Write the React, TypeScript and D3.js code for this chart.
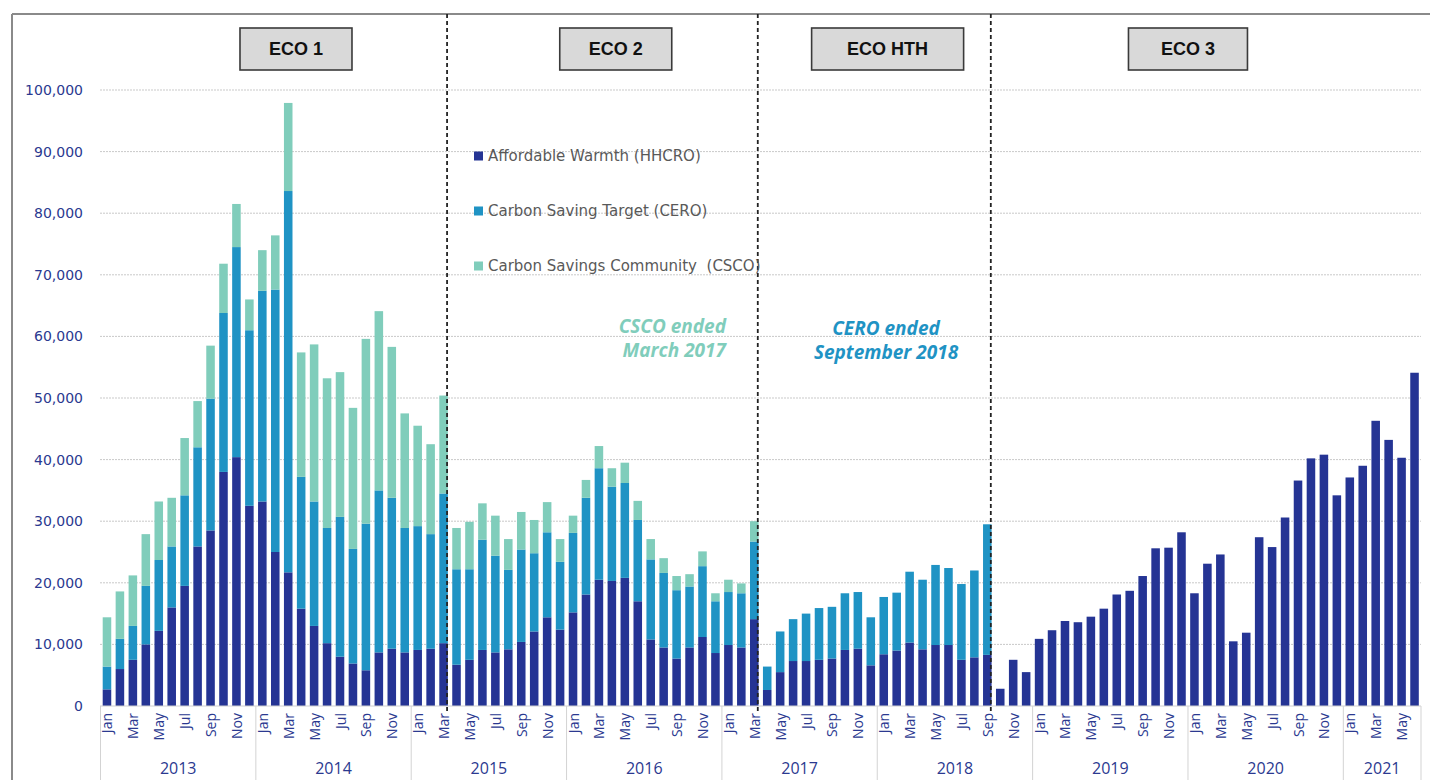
import React from "react";
import * as d3 from "d3";

// ---------- DATA ----------
const monthNames = ["Jan", "Feb", "Mar", "Apr", "May", "Jun", "Jul", "Aug", "Sep", "Oct", "Nov", "Dec"];
const years = [2013, 2014, 2015, 2016, 2017, 2018, 2019, 2020, 2021];
const monthsPerYear = [12, 12, 12, 12, 12, 12, 12, 12, 6];

// Affordable Warmth (HHCRO)
const hhcro = [
  2700, 6000, 7500, 10000, 12200, 16000, 19500, 25900, 28500, 38000, 40400, 32500,
  33200, 25000, 21700, 15800, 13000, 10200, 8000, 6900, 5800, 8700, 9300, 8700,
  9100, 9300, 10200, 6700, 7500, 9100, 8700, 9200, 10400, 12100, 14400, 12400,
  15200, 18100, 20500, 20300, 20800, 17000, 10800, 9500, 7700, 9500, 11200, 8600,
  9900, 9500, 14100, 2600, 5500, 7300, 7300, 7500, 7700, 9100, 9300, 6600,
  8400, 9000, 10300, 9200, 9900, 9900, 7500, 7900, 8300, 2800, 7500, 5500,
  10900, 12300, 13800, 13600, 14500, 15800, 18100, 18700, 21100, 25600, 25700, 28200,
  18300, 23100, 24600, 10500, 11900, 27400, 25800, 30600, 36600, 40200, 40800, 34200,
  37100, 39000, 46300, 43200, 40300, 54100,
];
// Carbon Saving Target (CERO)
const cero = [
  3700, 4900, 5500, 9500, 11500, 9900, 14700, 16100, 21400, 25800, 34100, 28500,
  34200, 42600, 61900, 21400, 20200, 18700, 22700, 18600, 23800, 26300, 24500, 20200,
  20100, 18600, 24300, 15500, 14700, 17900, 15700, 12900, 15000, 12700, 13800, 11000,
  12900, 15700, 18100, 15300, 15400, 13200, 13000, 12100, 11100, 9900, 11500, 8400,
  8600, 8800, 12600, 3800, 6600, 6800, 7700, 8400, 8400, 9200, 9200, 7800,
  9300, 9400, 11500, 11300, 13000, 12500, 12300, 14100, 21200, 0, 0, 0,
  0, 0, 0, 0, 0, 0, 0, 0, 0, 0, 0, 0,
  0, 0, 0, 0, 0, 0, 0, 0, 0, 0, 0, 0,
  0, 0, 0, 0, 0, 0,
];
// Carbon Savings Community (CSCO)
const csco = [
  8000, 7700, 8200, 8400, 9500, 7900, 9300, 7500, 8600, 8000, 7000, 5000,
  6600, 8800, 14300, 20200, 25500, 24300, 23500, 22900, 30000, 29100, 24500, 18600,
  16300, 14600, 15900, 6700, 7700, 5900, 6500, 5000, 6100, 5400, 4900, 3700,
  2800, 2900, 3600, 3000, 3300, 3100, 3300, 2400, 2300, 2000, 2400, 1300,
  2000, 1600, 3300, 0, 0, 0, 0, 0, 0, 0, 0, 0,
  0, 0, 0, 0, 0, 0, 0, 0, 0, 0, 0, 0,
  0, 0, 0, 0, 0, 0, 0, 0, 0, 0, 0, 0,
  0, 0, 0, 0, 0, 0, 0, 0, 0, 0, 0, 0,
  0, 0, 0, 0, 0, 0,
];

const seriesKeys = ["hhcro", "cero", "csco"];
const seriesLabels = ["Affordable Warmth (HHCRO)", "Carbon Saving Target (CERO)", "Carbon Savings Community  (CSCO)"];
const seriesColors = ["#253494", "#1F93C4", "#80CDBB"];

const yTicks = [0, 10000, 20000, 30000, 40000, 50000, 60000, 70000, 80000, 90000, 100000];

// scheme end months (index of last month in scheme)
const schemeEnds = [26, 50, 68];
const schemeNames = ["ECO 1", "ECO 2", "ECO HTH", "ECO 3"];
const schemeLabelCenter = [14.6, 39.3, 60.3, 83.5];
const schemeBoxWidth = [112, 112, 152, 119];

// ---------- DERIVED ----------
const periods: { label: string; month: number; year: number }[] = [];
years.forEach((y, yi) => {
  for (let m = 0; m < monthsPerYear[yi]; m++) periods.push({ label: `${monthNames[m]} ${y}`, month: m, year: y });
});
const table = periods.map((p, i) => ({ idx: i, hhcro: hhcro[i], cero: cero[i], csco: csco[i] }));

const W = 1430;
const H = 780;
const x = d3
  .scaleBand<number>()
  .domain(periods.map((_, i) => i))
  .range([100.5, 1421])
  .paddingInner(0.34)
  .paddingOuter(0.17);
const y = d3.scaleLinear().domain([0, 100000]).range([706, 90]);
const step = x.step();
const rangeStart = 100.5;
const cx = (i: number) => (x(i) as number) + x.bandwidth() / 2;
const xAt = (fi: number) => rangeStart + step * (fi + 0.5);

const stacked = d3.stack<any>().keys(seriesKeys)(table);

const navy = "#2B3990";
const fmt = d3.format(",");

export default function App() {
  const yearBounds: { year: number; x0: number; x1: number }[] = [];
  let k = 0;
  years.forEach((yr, yi) => {
    const x0 = rangeStart + k * step;
    k += monthsPerYear[yi];
    const x1 = rangeStart + k * step;
    yearBounds.push({ year: yr, x0, x1 });
  });

  return (
    <div style={{ position: "fixed", left: 0, top: 0, width: W, height: H, background: "#fff" }}>
      <svg width={W} height={H} style={{ display: "block" }}>
        <rect x={0} y={0} width={W} height={H} fill="#ffffff" />
        {/* frame */}
        <line x1={12} x2={W} y1={14} y2={14} stroke="#8a8a8a" strokeWidth={2} />
        <line x1={12} x2={12} y1={14} y2={H} stroke="#8a8a8a" strokeWidth={2} />

        {/* gridlines */}
        {yTicks.filter((t) => t > 0).map((t) => (
          <line key={t} x1={100} x2={1421} y1={y(t)} y2={y(t)} stroke="#c9c9c9" strokeWidth={1} strokeDasharray="2,1" />
        ))}
        {/* y labels */}
        {yTicks.map((t) => (
          <text key={"l" + t} x={83} y={y(t)} textAnchor="end" dominantBaseline="central" fill={navy}
            style={{ font: "14px 'DejaVu Sans', sans-serif" }}>{fmt(t)}</text>
        ))}

        {/* bars */}
        {stacked.map((s, si) => (
          <g key={s.key} fill={seriesColors[si]}>
            {s.map((d, i) => {
              const h = y(d[0]) - y(d[1]);
              if (h <= 0) return null;
              return <rect key={i} x={x(i)} y={y(d[1])} width={x.bandwidth()} height={h} />;
            })}
          </g>
        ))}

        {/* baseline */}
        <line x1={100} x2={1421} y1={y(0)} y2={y(0)} stroke="#d0d0d0" strokeWidth={1} />

        {/* year separators & labels */}
        {yearBounds.map((b, i) => (
          <g key={b.year}>
            <line x1={b.x0} x2={b.x0} y1={y(0)} y2={H} stroke="#d3d3d3" strokeWidth={1} />
            {i === yearBounds.length - 1 && (
              <line x1={b.x1} x2={b.x1} y1={y(0)} y2={H} stroke="#d3d3d3" strokeWidth={1} />
            )}
            <text x={(b.x0 + b.x1) / 2} y={768} textAnchor="middle" dominantBaseline="central" fill={navy}
              style={{ font: "16px 'Open Sans', sans-serif" }}>{b.year}</text>
          </g>
        ))}

        {/* month labels */}
        {periods.map((p, i) =>
          p.month % 2 === 0 ? (
            <text key={"m" + i} transform={`translate(${cx(i)},${713}) rotate(-90)`} textAnchor="end"
              dominantBaseline="central" fill={navy} style={{ font: "14px 'Open Sans', sans-serif" }}>
              {monthNames[p.month]}
            </text>
          ) : null
        )}

        {/* scheme dashed lines */}
        {schemeEnds.map((e) => (
          <line key={"d" + e} x1={cx(e) + 3.5} x2={cx(e) + 3.5} y1={14} y2={711} stroke="#222" strokeWidth={1.8}
            strokeDasharray="4,3" />
        ))}

        {/* scheme boxes */}
        {schemeNames.map((n, i) => {
          const c = xAt(schemeLabelCenter[i]);
          const w = schemeBoxWidth[i];
          return (
            <g key={n}>
              <rect x={c - w / 2} y={28} width={w} height={42} fill="#D9D9D9" stroke="#3a3a3a" strokeWidth={1.6} />
              <text x={c} y={49} textAnchor="middle" dominantBaseline="central" fill="#111"
                style={{ font: "bold 18px 'Liberation Sans', Arial, sans-serif" }}>{n}</text>
            </g>
          );
        })}

        {/* legend */}
        {seriesLabels.map((l, i) => (
          <g key={l} transform={`translate(474,${156 + i * 55})`}>
            <rect x={0} y={-4.5} width={9} height={9} fill={seriesColors[i]} />
            <text x={14} y={0} dominantBaseline="central" fill="#595959"
              style={{ font: "15px 'DejaVu Sans', sans-serif", whiteSpace: "pre" }}>{l}</text>
          </g>
        ))}

        {/* annotations */}
        <g fill="#80CDBB" style={{ font: "italic bold 19px 'Open Sans', sans-serif" }}>
          <text x={726} y={326} textAnchor="end" dominantBaseline="central">CSCO ended</text>
          <text x={726} y={350} textAnchor="end" dominantBaseline="central">March 2017</text>
        </g>
        <g fill="#1F93C4" style={{ font: "italic bold 19px 'Open Sans', sans-serif" }}>
          <text x={886} y={328} textAnchor="middle" dominantBaseline="central">CERO ended</text>
          <text x={886} y={352} textAnchor="middle" dominantBaseline="central">September 2018</text>
        </g>
      </svg>
    </div>
  );
}
